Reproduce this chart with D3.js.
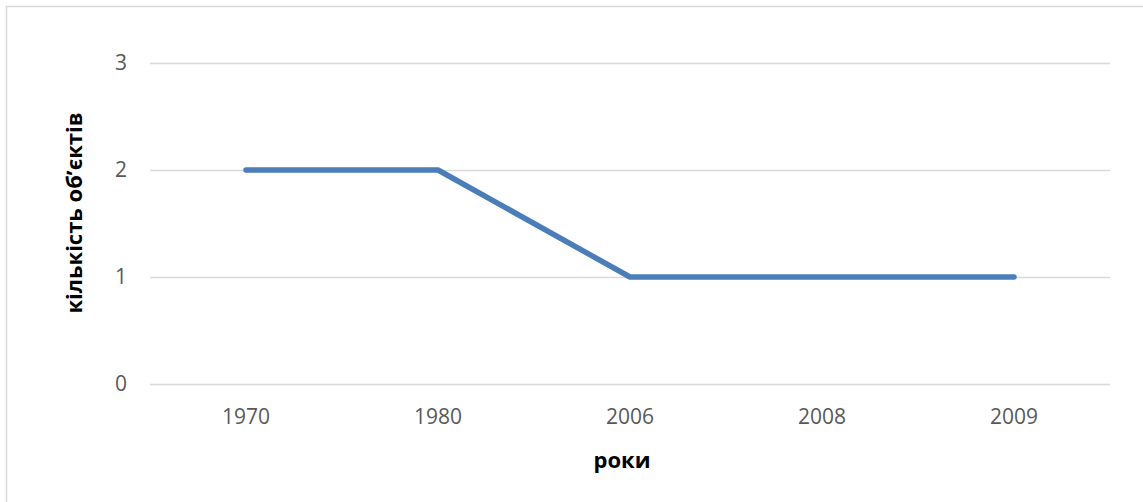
<!DOCTYPE html>
<html>
<head>
<meta charset="utf-8">
<script src="https://cdn.jsdelivr.net/npm/d3@7"></script>
<style>
  body { margin: 0; background: #fff; }
  svg { display: block; }
</style>
</head>
<body>
<div id="chart"></div>
<script>
var years = ['1970', '1980', '2006', '2008', '2009'];
var counts = [2, 2, 1, 1, 1];
var yTicks = [0, 1, 2, 3];

var width = 1143,
  height = 502,
  plotLeft = 150,
  plotRight = 1110,
  plotTop = 63,
  plotBottom = 384,
  fontFamily = '"Open Sans", "Liberation Sans", sans-serif';

var svg = d3.select('#chart').append('svg')
  .attr('width', width)
  .attr('height', height)
  .attr('font-family', fontFamily);

// chart area border (runs off the right and bottom of the picture)
svg.append('rect')
  .attr('x', 6.5)
  .attr('y', 6.5)
  .attr('width', width + 10)
  .attr('height', height + 10)
  .attr('fill', 'none')
  .attr('stroke', '#d9d9d9')
  .attr('stroke-width', 1.5);

var x = d3.scaleBand()
  .domain(years)
  .range([plotLeft, plotRight]);

var y = d3.scaleLinear()
  .domain([0, 3])
  .range([plotBottom, plotTop]);

// gridlines + y labels
var yAxis = d3.axisLeft(y)
  .tickValues(yTicks)
  .tickSize(-(plotRight - plotLeft))
  .tickPadding(23)
  .tickFormat(d3.format('d'));

svg.append('g')
  .attr('transform', 'translate(' + plotLeft + ',0)')
  .call(yAxis)
  .call(function (g) {
    g.attr('font-family', fontFamily);
    g.select('.domain').remove();
    g.selectAll('line').attr('stroke', '#d9d9d9').attr('stroke-width', 1.5);
    g.selectAll('text')
      .attr('fill', '#595959')
      .attr('font-size', 21);
  });

var xAxis = d3.axisBottom(x)
  .tickSize(0)
  .tickPadding(25);

svg.append('g')
  .attr('transform', 'translate(0,' + plotBottom + ')')
  .call(xAxis)
  .call(function (g) {
    g.attr('font-family', fontFamily);
    g.select('.domain').remove();
    g.selectAll('text')
      .attr('fill', '#595959')
      .attr('font-size', 21);
  });

var line = d3.line()
  .x(function (d, i) { return x(years[i]) + x.bandwidth() / 2; })
  .y(function (d) { return y(d); });

svg.append('path')
  .datum(counts)
  .attr('d', line)
  .attr('fill', 'none')
  .attr('stroke', '#4a7ebb')
  .attr('stroke-width', 5.5)
  .attr('stroke-linejoin', 'round')
  .attr('stroke-linecap', 'round');

// axis titles
svg.append('text')
  .attr('transform', 'translate(82,213) rotate(-90)')
  .attr('text-anchor', 'middle')
  .attr('font-size', 22)
  .attr('font-weight', 'bold')
  .attr('fill', '#000')
  .text('кількість об\u02bcєктів');

svg.append('text')
  .attr('x', 622)
  .attr('y', 468)
  .attr('text-anchor', 'middle')
  .attr('font-size', 22)
  .attr('font-weight', 'bold')
  .attr('fill', '#000')
  .text('роки');
</script>
</body>
</html>
